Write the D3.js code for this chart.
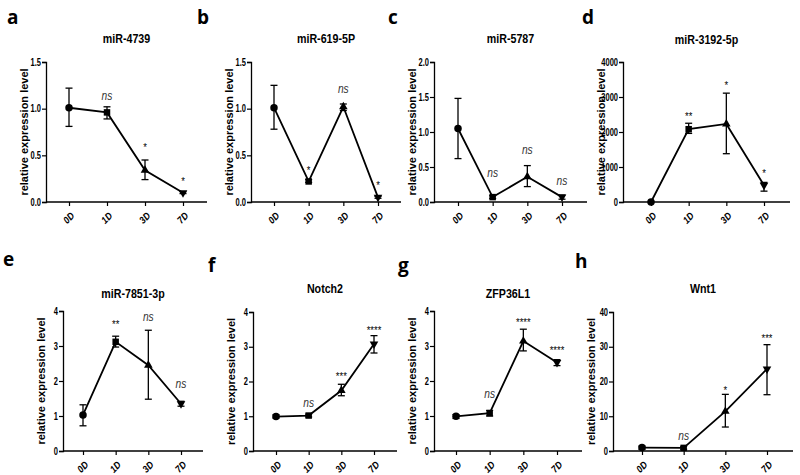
<!DOCTYPE html>
<html><head><meta charset="utf-8">
<script src="https://cdn.jsdelivr.net/npm/d3@7"></script>
<style>
body{margin:0;background:#fff}
text{font-family:"Liberation Sans",Arial,sans-serif;}
</style></head><body>
<svg id="c" width="800" height="475"></svg>
<script>
// ---------------- data ----------------
const categories = ["0D","1D","3D","7D"];
const panelLetters = ["a","b","c","d","e","f","g","h"];
const titles = ["miR-4739","miR-619-5P","miR-5787","miR-3192-5p","miR-7851-3p","Notch2","ZFP36L1","Wnt1"];
const yLabel = "relative expression level";
const means = [
  [1.01,0.96,0.34,0.10],
  [1.01,0.22,1.02,0.05],
  [1.05,0.07,0.36,0.07],
  [1,2080,2230,480],
  [1.03,3.12,2.45,1.35],
  [0.99,1.02,1.74,3.08],
  [0.99,1.08,3.14,2.53],
  [1.0,0.9,11.4,23.6]
];
const errLow = [
  [0.81,0.89,0.24,0.09],
  [0.78,0.21,0.98,0.04],
  [0.62,0.05,0.22,0.04],
  [1,1960,1380,310],
  [0.72,2.97,1.48,1.28],
  [0.95,0.98,1.59,2.82],
  [0.93,1.00,2.86,2.44],
  [0.5,0.5,6.9,16.2]
];
const errHigh = [
  [1.22,1.02,0.45,0.11],
  [1.25,0.24,1.05,0.06],
  [1.48,0.09,0.52,0.10],
  [1,2250,3110,560],
  [1.32,3.28,3.45,1.42],
  [1.04,1.06,1.92,3.32],
  [1.04,1.16,3.48,2.61],
  [1.4,1.3,16.3,30.6]
];
const yMax = [1.5,1.5,2,4000,4,4,4,40];
const yTickStep = [0.5,0.5,0.5,1000,1,1,1,10];
const yTickFormat = [".1f",".1f",".1f","d","d","d","d","d"];
const annotText = [
  ["","ns","*","*"],
  ["","*","ns","*"],
  ["","ns","ns","ns"],
  ["","**","*","*"],
  ["","**","ns","ns"],
  ["","ns","***","****"],
  ["","ns","****","****"],
  ["","ns","*","***"]
];
const annotLevel = [
  [0,1.13,0.62,0.25],
  [0,0.37,1.2,0.21],
  [0,0.40,0.74,0.29],
  [0,2540,3418,914],
  [0,3.7,3.8,1.9],
  [0,1.35,2.25,3.55],
  [0,1.6,3.76,2.96],
  [0,4.1,18.4,33.4]
];

// ---------------- layout ----------------
const layout = [
  {x0:46, x1:207, pl:23, pr:24, yT:62, yB:202, lx:7,   ly:24, ty:43},
  {x0:251,x1:401, pl:23, pr:23, yT:62, yB:202, lx:197, ly:24, ty:43},
  {x0:434,x1:587, pl:24, pr:25, yT:62, yB:202, lx:388, ly:24, ty:43},
  {x0:623,x1:790, pl:28, pr:26, yT:62, yB:202, lx:582, ly:24, ty:44},
  {x0:63, x1:203, pl:20, pr:22, yT:311,yB:451, lx:3,   ly:266, ty:298},
  {x0:253,x1:397, pl:23, pr:23, yT:312,yB:451, lx:208, ly:272, ty:293},
  {x0:434,x1:582, pl:22, pr:25, yT:311,yB:451, lx:398, ly:272, ty:298},
  {x0:613,x1:793, pl:29, pr:26, yT:312,yB:451, lx:575, ly:268, ty:293}
];
const markerTypes = [d3.symbolCircle, d3.symbolSquare, d3.symbolTriangle, d3.symbolTriangle];
const markerRot = [0,0,0,180];
const markerSize = [44,42,32,32];

const svg = d3.select("#c");
function narrow(sel, f){
  sel.each(function(){
    const w = this.getComputedTextLength();
    if (w>0){ this.setAttribute("textLength", (w*f).toFixed(2)); this.setAttribute("lengthAdjust","spacingAndGlyphs"); }
  });
}

layout.forEach((L,i)=>{
  const g = svg.append("g");
  const x = d3.scalePoint().domain(categories).range([L.x0+L.pl, L.x1-L.pr]);
  const y = d3.scaleLinear().domain([0,yMax[i]]).range([L.yB, L.yT]);

  // panel letter
  svg.append("text").attr("x",L.lx).attr("y",L.ly)
    .style("font-family","'Open Sans','DejaVu Sans',sans-serif")
    .style("font-weight","700").style("font-size","19px").text(panelLetters[i]);

  // title
  g.append("text").attr("x",(L.x0+L.x1)/2).attr("y",L.ty)
    .attr("text-anchor","middle").style("font-weight","700").style("font-size","13px")
    .text(titles[i]).call(narrow,0.82);

  // y axis
  const ticks = d3.range(0, yMax[i]+yTickStep[i]/2, yTickStep[i]);
  const ya = g.append("g").attr("transform",`translate(${L.x0},0)`)
    .call(d3.axisLeft(y).tickValues(ticks).tickFormat(d3.format(yTickFormat[i])).tickSize(4).tickPadding(1));
  ya.select(".domain").attr("stroke","#000").attr("stroke-width",1.3);
  ya.selectAll(".tick line").attr("stroke","#000").attr("stroke-width",1.2);
  ya.selectAll("text").style("font-size","10px").style("font-weight","700").attr("fill","#000")
    .style("font-family","'Liberation Sans',Arial,sans-serif").call(narrow,0.75);

  // x axis
  const xa = g.append("g").attr("transform",`translate(0,${L.yB})`)
    .call(d3.axisBottom(x).tickSize(4).tickSizeOuter(0));
  xa.select(".domain").attr("d",`M${L.x0},0H${L.x1}`).attr("stroke","#000").attr("stroke-width",1.3);
  xa.selectAll(".tick line").attr("stroke","#000").attr("stroke-width",1.2);
  xa.selectAll("text")
    .attr("transform","translate(3,12) rotate(-45)")
    .attr("x",0).attr("y",0).attr("dy","0.35em")
    .attr("text-anchor","end")
    .style("font-family","'Liberation Sans',Arial,sans-serif")
    .style("font-size","10px").style("font-weight","700").style("font-style","italic").attr("fill","#000")
    .call(narrow,0.85);

  // y label
  g.append("text")
    .attr("transform",`translate(${L.x0-22},${(L.yT+L.yB)/2}) rotate(-90)`)
    .attr("text-anchor","middle").attr("dy","0.35em")
    .style("font-weight","700").style("font-size","11px").text(yLabel);

  // line
  const pts = categories.map((c,j)=>({c, v:means[i][j], lo:errLow[i][j], hi:errHigh[i][j], t:annotText[i][j], a:annotLevel[i][j], j}));
  g.append("path").datum(pts)
    .attr("d", d3.line().x(d=>x(d.c)).y(d=>y(d.v)))
    .attr("fill","none").attr("stroke","#000").attr("stroke-width",1.8);

  // error bars
  const eb = g.selectAll(".eb").data(pts.filter(d=>d.hi>d.lo)).enter().append("g");
  eb.append("line").attr("x1",d=>x(d.c)).attr("x2",d=>x(d.c)).attr("y1",d=>y(d.lo)).attr("y2",d=>y(d.hi))
    .attr("stroke","#000").attr("stroke-width",1.3);
  eb.append("line").attr("x1",d=>x(d.c)-3.5).attr("x2",d=>x(d.c)+3.5).attr("y1",d=>y(d.lo)).attr("y2",d=>y(d.lo))
    .attr("stroke","#000").attr("stroke-width",1.3);
  eb.append("line").attr("x1",d=>x(d.c)-3.5).attr("x2",d=>x(d.c)+3.5).attr("y1",d=>y(d.hi)).attr("y2",d=>y(d.hi))
    .attr("stroke","#000").attr("stroke-width",1.3);

  // markers
  g.selectAll(".mk").data(pts).enter().append("path")
    .attr("d", d=>d3.symbol().type(markerTypes[d.j]).size(markerSize[d.j])())
    .attr("transform", d=>`translate(${x(d.c)},${y(d.v)}) rotate(${markerRot[d.j]})`)
    .attr("fill","#000");

  // annotations
  g.selectAll(".an").data(pts.filter(d=>d.t)).enter().append("text")
    .attr("x",d=>x(d.c)).attr("y",d=>y(d.a))
    .attr("dy", d=>d.t==="ns" ? "0.28em" : "0.62em")
    .attr("text-anchor","middle")
    .style("font-size", d=>d.t==="ns" ? "12px" : "11px")
    .style("font-style", d=>d.t==="ns" ? "italic" : "normal")
    .attr("fill", d=>d.t==="ns" ? "#333" : "#000")
    .text(d=>d.t).call(narrow,0.85);
});
</script>
</body></html>
